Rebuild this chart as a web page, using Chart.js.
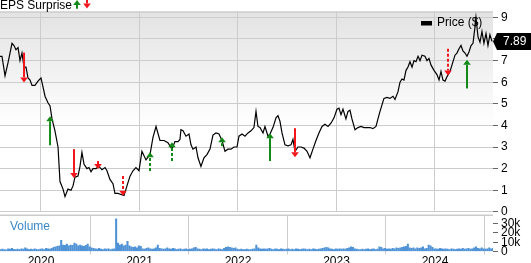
<!DOCTYPE html>
<html>
<head>
<meta charset="utf-8">
<script src="https://cdn.jsdelivr.net/npm/chart.js@4.4.1/dist/chart.umd.min.js"></script>
<style>
    html, body { margin: 0; padding: 0; background: #fff; }
    #wrap { position: relative; width: 531px; height: 263px; overflow: hidden; }
    #priceBox { position: absolute; left: 0; top: 0; width: 531px; height: 222px; }
    #volumeBox { position: absolute; left: 0; top: 205px; width: 531px; height: 58px; }
</style>
</head>
<body>
<div id="wrap">
    <div id="priceBox"><canvas id="priceChart"></canvas></div>
    <div id="volumeBox"><canvas id="volumeChart"></canvas></div>
</div>
<script>
// dates are decimal years
const priceDates = [
    2019.584, 2019.604, 2019.635, 2019.665, 2019.706, 2019.726, 2019.746, 2019.767, 2019.787, 2019.807,
    2019.828, 2019.848, 2019.868, 2019.889, 2019.909, 2019.939, 2019.970, 2020.000, 2020.020, 2020.041,
    2020.071, 2020.092, 2020.112, 2020.142, 2020.173, 2020.193, 2020.224, 2020.244, 2020.274, 2020.305,
    2020.325, 2020.345, 2020.376, 2020.396, 2020.416, 2020.437, 2020.467, 2020.487, 2020.508, 2020.528,
    2020.558, 2020.589, 2020.619, 2020.650, 2020.670, 2020.700, 2020.731, 2020.751, 2020.782, 2020.812,
    2020.843, 2020.873, 2020.904, 2020.934, 2020.964, 2020.995, 2021.025, 2021.066, 2021.107, 2021.137,
    2021.168, 2021.208, 2021.249, 2021.289, 2021.330, 2021.360, 2021.391, 2021.411, 2021.421, 2021.442,
    2021.472, 2021.503, 2021.523, 2021.543, 2021.574, 2021.594, 2021.624, 2021.655, 2021.685, 2021.716,
    2021.746, 2021.777, 2021.807, 2021.838, 2021.868, 2021.898, 2021.929, 2021.959, 2021.990, 2022.010,
    2022.041, 2022.071, 2022.102, 2022.132, 2022.162, 2022.183, 2022.203, 2022.223, 2022.254, 2022.274,
    2022.305, 2022.325, 2022.355, 2022.386, 2022.406, 2022.426, 2022.447, 2022.477, 2022.508, 2022.538,
    2022.558, 2022.579, 2022.609, 2022.640, 2022.670, 2022.701, 2022.731, 2022.761, 2022.792, 2022.822,
    2022.853, 2022.883, 2022.914, 2022.944, 2022.975, 2023.005, 2023.025, 2023.046, 2023.066, 2023.096,
    2023.117, 2023.137, 2023.157, 2023.188, 2023.218, 2023.249, 2023.279, 2023.310, 2023.340, 2023.370,
    2023.401, 2023.421, 2023.442, 2023.462, 2023.482, 2023.513, 2023.543, 2023.574, 2023.594, 2023.624,
    2023.645, 2023.665, 2023.685, 2023.706, 2023.726, 2023.746, 2023.767, 2023.787, 2023.807, 2023.828,
    2023.848, 2023.868, 2023.898, 2023.919, 2023.939, 2023.959, 2023.990, 2024.020, 2024.041, 2024.061,
    2024.081, 2024.102, 2024.122, 2024.152, 2024.173, 2024.203, 2024.223, 2024.244, 2024.264, 2024.284,
    2024.305, 2024.325, 2024.345, 2024.366, 2024.386, 2024.406, 2024.416, 2024.437, 2024.457, 2024.477,
    2024.497, 2024.518, 2024.538, 2024.558, 2024.579
];

const priceValues = [
    7.2, 7.2, 6.3, 6.9, 7.8, 7.7, 7.5, 7.6, 7.0, 7.35,
    6.7, 6.7, 6.2, 6.1, 5.85, 5.85, 6.05, 6.2, 5.8, 5.35,
    5.05, 4.9, 4.3, 3.75, 3.0, 1.4, 1.05, 0.7, 1.05, 1.0,
    1.2, 1.6, 1.65, 2.1, 2.75, 2.2, 2.0, 2.05, 1.85, 2.0,
    2.0, 2.1, 1.95, 2.05, 1.9, 1.5, 1.3, 0.85, 0.85, 0.8,
    0.75, 1.2, 1.65, 1.9, 2.05, 1.9, 2.8, 2.4, 2.65, 3.45,
    3.95, 3.3, 3.3, 3.2, 2.9, 3.25, 3.25, 3.35, 3.8, 3.75,
    3.5, 3.6, 3.1, 2.9, 3.0, 2.5, 2.1, 2.5, 2.65, 2.9,
    3.55, 3.65, 3.6, 3.3, 2.8, 2.9, 2.9, 3.0, 3.0, 3.5,
    3.6, 3.5, 3.65, 3.75, 3.9, 4.65, 3.95, 3.9, 3.65, 3.95,
    3.5, 3.6, 3.9, 4.35, 4.45, 4.2, 3.65, 3.1, 3.05, 3.1,
    3.35, 2.8, 3.0, 3.0, 2.95, 2.8, 2.5, 2.9, 3.3, 3.65,
    3.95, 4.05, 3.95, 4.1, 4.35, 4.75, 4.8, 4.5, 4.75, 4.3,
    4.65, 4.7, 4.3, 3.8, 3.9, 3.95, 3.9, 3.9, 3.9, 3.85,
    3.95, 4.3, 4.65, 4.95, 5.25, 5.3, 5.25, 5.35, 5.2, 5.55,
    6.0, 6.15, 6.1, 6.55, 6.7, 6.95, 6.7, 7.0, 6.95, 7.2,
    7.0, 7.25, 7.2, 7.0, 7.1, 6.8, 6.55, 6.35, 6.1, 6.5,
    6.1, 6.05, 6.25, 6.5, 6.8, 7.25, 7.35, 7.55, 7.7, 7.45,
    7.35, 7.2, 7.4, 7.7, 7.8, 8.55, 9.0, 8.1, 7.85, 8.35,
    7.8, 8.25, 7.7, 8.2, 7.89
];

// weekly volume (shares), first week starts at volumeStart
const volumeStart = 2019.59;
const volumeValues = [
    2000, 2500, 2000, 1800, 3000, 2500, 3500, 2200, 2000, 2500,
    2000, 3000, 2500, 4000, 3000, 2000, 2500, 2000, 3000, 2200,
    2000, 2500, 3000, 2000, 3500, 3000, 2500, 3500, 4500, 5000,
    5500, 6000, 12000, 7000, 6500, 8000, 6000, 7000, 6500, 9000,
    8000, 6000, 7000, 6000, 5500, 6500, 8000, 5000, 4000, 3500,
    3000, 2500, 3500, 2500, 2000, 3000, 2500, 3000, 2000, 2500,
    3000, 35000, 9000, 7000, 8000, 6000, 7000, 11000, 6000, 5000,
    4500, 5000, 4000, 6000, 5500, 3000, 2500, 3500, 4000, 3000,
    2500, 3000, 4000, 7000, 3500, 3000, 2500, 3000, 4000, 3000,
    2500, 3500, 3000, 2000, 2500, 3000, 2000, 2500, 3000, 2000,
    2500, 3000, 4000, 4500, 3000, 2500, 2000, 3000, 2500, 3000,
    2000, 2500, 3000, 2500, 2000, 3000, 2500, 2000, 3500, 4500,
    5000, 4500, 4000, 3500, 4000, 2500, 2000, 2500, 2000, 2000,
    2500, 2000, 2000, 2500, 3000, 7000, 4000, 3000, 2500, 3000,
    2500, 3000, 3500, 2500, 2000, 3000, 2500, 2000, 3000, 2500,
    2000, 2500, 3000, 2000, 2500, 2000, 3000, 2500, 2000, 2500,
    3000, 2500, 2000, 2500, 2000, 3000, 2500, 2000, 2500, 3000,
    3500, 4000, 4500, 4000, 3000, 2500, 2000, 3000, 2500, 3000,
    2500, 3000, 2500, 3500, 4000, 5000, 4500, 3000, 2500, 2000,
    2000, 2500, 2000, 2500, 3000, 2000, 2500, 3000, 2000, 2500,
    5000, 4500, 3000, 3500, 2500, 3000, 2500, 3500, 3000, 4000,
    3500, 4000, 4500, 5000, 5500, 8000, 4000, 3500, 4000, 3000,
    4000, 3500, 4000, 5000, 3000, 3500, 7000, 6000, 4500, 3000,
    3000, 2500, 3500, 3000, 2500, 3000, 2500, 2000, 3000, 2500,
    2000, 2500, 3000, 2500, 3500, 2500, 3000, 3500, 2500, 3000,
    4000, 5000, 3500, 3000, 4000, 3000, 2500, 3000, 4000, 3000, 3500
];

// EPS surprise arrows: beat = up (green), miss = down (red)
const epsDates = [2019.828, 2020.092, 2020.335, 2020.579, 2020.833, 2021.107, 2021.330, 2021.838, 2022.325, 2022.579, 2024.132, 2024.325];
const epsFrom = [7.37, 3.08, 2.9, 2.35, 1.66, 1.89, 2.35, 3.04, 2.35, 3.87, 7.55, 5.71];
const epsTo = [5.99, 4.42, 1.57, 1.98, 0.74, 2.76, 3.22, 3.45, 3.64, 2.53, 6.31, 7.04];
const epsBeat = [false, true, false, false, false, true, true, true, true, false, false, true];
const epsDashed = [false, false, false, false, true, true, true, true, false, false, true, false];

const X_MIN = 2019.584;
const X_MAX = 2024.589;
const FONT = '"Liberation Sans", Arial, sans-serif';
const GREEN = '#138a17';
const RED = '#f2161c';
const GRID = '#cccccc';

document.addEventListener('DOMContentLoaded', function () {
    Chart.defaults.font.family = FONT;
    Chart.defaults.color = '#000';
    initPriceChart();
    initVolumeChart();
});

function drawArrow(ctx, x, yFrom, yTo, color, dashed) {
    const dir = yTo > yFrom ? 1 : -1;
    const head = 5;
    ctx.save();
    ctx.strokeStyle = color;
    ctx.fillStyle = color;
    ctx.lineWidth = 2;
    ctx.setLineDash(dashed ? [3, 2] : []);
    ctx.beginPath();
    ctx.moveTo(x, yFrom);
    ctx.lineTo(x, yTo - dir * head);
    ctx.stroke();
    ctx.setLineDash([]);
    ctx.beginPath();
    ctx.moveTo(x - 3.8, yTo - dir * head);
    ctx.lineTo(x + 3.8, yTo - dir * head);
    ctx.lineTo(x, yTo);
    ctx.closePath();
    ctx.fill();
    ctx.restore();
}

const priceDecor = {
    id: 'priceDecor',
    beforeDraw(chart) {
        const {ctx, chartArea} = chart;
        const g = ctx.createLinearGradient(0, chartArea.top, 0, chartArea.top + 115);
        g.addColorStop(0, '#e3e3e3');
        g.addColorStop(1, '#ffffff');
        ctx.save();
        ctx.fillStyle = g;
        ctx.fillRect(chartArea.left, chartArea.top, chartArea.right - chartArea.left, chartArea.bottom - chartArea.top);
        ctx.restore();
    },
    afterDatasetsDraw(chart) {
        const {ctx, scales} = chart;
        epsDates.forEach((d, i) => {
            const x = scales.x.getPixelForValue(d);
            drawArrow(ctx, x, scales.y.getPixelForValue(epsFrom[i]), scales.y.getPixelForValue(epsTo[i]),
                epsBeat[i] ? GREEN : RED, epsDashed[i]);
        });
    },
    afterDraw(chart) {
        const {ctx, chartArea, scales} = chart;
        ctx.save();
        // top border
        ctx.strokeStyle = GRID;
        ctx.lineWidth = 1.5;
        ctx.beginPath();
        ctx.moveTo(chartArea.left, chartArea.top);
        ctx.lineTo(chartArea.right, chartArea.top);
        ctx.stroke();

        // title
        ctx.fillStyle = '#000';
        ctx.font = '12px ' + FONT;
        ctx.textBaseline = 'alphabetic';
        ctx.textAlign = 'left';
        ctx.fillText('EPS Surprise', 0, 8.5);
        drawArrow(ctx, 77, 8.7, 0, GREEN, false);
        drawArrow(ctx, 87, 0, 8.5, RED, false);

        // legend
        ctx.fillStyle = '#000';
        ctx.fillRect(421, 21, 11, 4.5);
        ctx.textBaseline = 'middle';
        ctx.fillText('Price ($)', 437, 23);

        // last price tag
        const last = priceValues[priceValues.length - 1];
        const y = scales.y.getPixelForValue(last);
        ctx.beginPath();
        ctx.moveTo(chartArea.right, y);
        ctx.lineTo(chartArea.right + 4, y - 8.5);
        ctx.lineTo(531, y - 8.5);
        ctx.lineTo(531, y + 8.5);
        ctx.lineTo(chartArea.right + 4, y + 8.5);
        ctx.closePath();
        ctx.fill();
        ctx.fillStyle = '#fff';
        ctx.fillText(last.toFixed(2), chartArea.right + 10, y + 0.5);
        ctx.restore();
    }
};

function initPriceChart() {
    const ctx = document.getElementById('priceChart').getContext('2d');
    new Chart(ctx, {
        type: 'line',
        data: {
            datasets: [{
                label: 'Price ($)',
                data: priceDates.map((d, i) => ({x: d, y: priceValues[i]})),
                borderColor: '#000',
                borderWidth: 1.2,
                pointRadius: 0,
                tension: 0,
                fill: false
            }]
        },
        options: {
            responsive: true,
            maintainAspectRatio: false,
            animation: false,
            layout: {padding: {top: 12, bottom: 8.5, left: 0, right: 0}},
            plugins: {legend: {display: false}, tooltip: {enabled: false}},
            scales: {
                x: {
                    type: 'linear',
                    min: X_MIN,
                    max: X_MAX,
                    ticks: {display: false, stepSize: 1, includeBounds: false},
                    grid: {color: GRID, drawTicks: false},
                    border: {display: false},
                    afterFit: s => { s.height = 0; }
                },
                y: {
                    position: 'right',
                    min: 0,
                    max: 9.25,
                    ticks: {stepSize: 1, includeBounds: false, padding: 3, font: {size: 12}},
                    grid: {color: GRID, tickColor: '#666', tickLength: 5},
                    border: {display: false},
                    afterFit: s => { s.width = 38; }
                }
            }
        },
        plugins: [priceDecor]
    });
}

const volumeDecor = {
    id: 'volumeDecor',
    afterDraw(chart) {
        const {ctx, chartArea} = chart;
        ctx.save();
        ctx.strokeStyle = GRID;
        ctx.lineWidth = 1.5;
        ctx.beginPath();
        ctx.moveTo(chartArea.left, chartArea.top);
        ctx.lineTo(chartArea.right, chartArea.top);
        ctx.stroke();
        ctx.fillStyle = '#3a88c8';
        ctx.font = '12px ' + FONT;
        ctx.textBaseline = 'middle';
        ctx.fillText('Volume', 10, 21.5);
        ctx.restore();
    }
};

function initVolumeChart() {
    const ctx = document.getElementById('volumeChart').getContext('2d');
    new Chart(ctx, {
        type: 'bar',
        data: {
            datasets: [{
                label: 'Volume',
                // plotted in thousands
                data: volumeValues.map((v, i) => ({x: volumeStart + i / 52, y: v / 1000})),
                backgroundColor: '#4f92d6',
                barThickness: 1.4
            }]
        },
        options: {
            responsive: true,
            maintainAspectRatio: false,
            animation: false,
            layout: {padding: {top: 10, bottom: 0, left: 0, right: 0}},
            plugins: {legend: {display: false}, tooltip: {enabled: false}},
            scales: {
                x: {
                    type: 'linear',
                    offset: false,
                    min: X_MIN,
                    max: X_MAX,
                    ticks: {
                        stepSize: 1,
                        includeBounds: false,
                        padding: 0,
                        maxRotation: 0,
                        font: {size: 12},
                        callback: value => String(value)
                    },
                    grid: {color: GRID, tickLength: 3},
                    border: {display: false},
                    afterFit: s => { s.height = 11.5; }
                },
                y: {
                    position: 'right',
                    min: 0,
                    max: 39,
                    ticks: {
                        stepSize: 10,
                        includeBounds: false,
                        autoSkip: false,
                        padding: 3,
                        font: {size: 12},
                        callback: value => value === 0 ? '0' : value + 'k'
                    },
                    grid: {drawOnChartArea: false, tickColor: '#666', tickLength: 5},
                    border: {display: false},
                    afterFit: s => { s.width = 38; }
                }
            }
        },
        plugins: [volumeDecor]
    });
}
</script>
</body>
</html>
